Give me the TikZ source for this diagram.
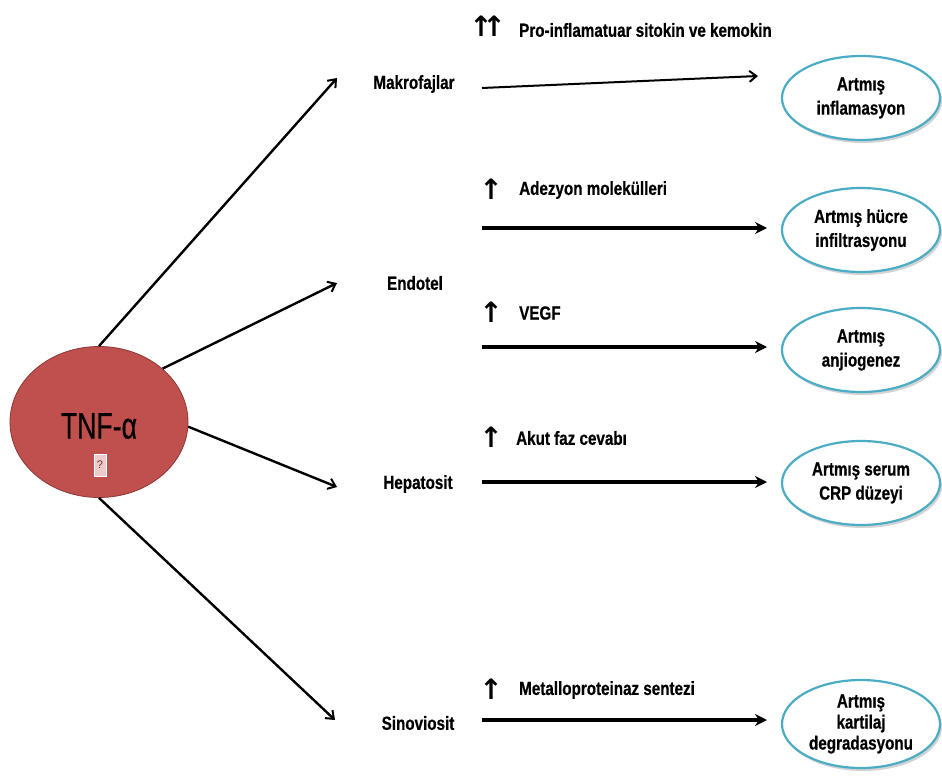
\documentclass[tikz,border=0pt]{standalone}
\usepackage{fontspec}
\setmainfont{Liberation Sans}
\newfontfamily\narrowb[FakeStretch=0.8,FakeBold=0.6]{Liberation Sans Bold}
\newfontfamily\narrowr[FakeStretch=0.72,FakeBold=0.5]{Liberation Sans}
\newfontfamily\arrowfont{DejaVu Sans Bold}
\usetikzlibrary{arrows.meta,shapes.geometric,shadows}
\definecolor{tnfred}{HTML}{C0504D}
\definecolor{tnfborder}{HTML}{8C3836}
\definecolor{effblue}{HTML}{4BACC6}
\tikzset{
  tnfnode/.style={ellipse, fill=tnfred, draw=tnfborder, line width=0.8pt,
    minimum width=178pt, minimum height=151pt, inner sep=0pt},
  effect/.style={ellipse, draw=effblue, line width=2.2pt, fill=white,
    minimum width=158pt, minimum height=84pt, inner sep=0pt,
    align=center, font=\narrowb\fontsize{19}{24}\selectfont,
    drop shadow={shadow xshift=2pt, shadow yshift=-3pt, opacity=0.35}},
  cell/.style={font=\narrowb\fontsize{19}{22}\selectfont, inner sep=0pt},
  mediator/.style={font=\narrowb\fontsize{19}{22}\selectfont, anchor=west, inner sep=0pt},
  uparrow/.style={font=\arrowfont\fontsize{28}{30}\selectfont, inner sep=0pt},
  diag/.style={line width=2.4pt, -{Straight Barb[length=7pt,width=11pt,line width=2pt]}},
  horiz/.style={line width=3.8pt, -{Stealth[length=12pt,width=12pt]}},
  horizthin/.style={line width=2pt, -{Straight Barb[length=7pt,width=11pt,line width=2pt]}}
}
\begin{document}
\begin{tikzpicture}[x=1pt,y=-1pt]
\useasboundingbox (0,0) rectangle (942,778);

% TNF-alpha
\node[tnfnode] (tnf) at (99,422) {};
\node[font=\narrowr\fontsize{37}{40}\selectfont, inner sep=0pt] (tnflabel) at (99,426) {TNF-α};
\node[draw=white, fill=tnfred!30!white, line width=0.8pt, inner sep=1pt,
  minimum width=12pt, minimum height=22pt,
  font=\fontsize{11}{12}\selectfont, text=tnfred!60!black] (qbox) at (100,465) {?};

% target cells
\node[cell] (mak) at (414,84) {Makrofajlar};
\node[cell] (end) at (415,283) {Endotel};
\node[cell] (hep) at (418,484) {Hepatosit};
\node[cell] (sin) at (418,723) {Sinoviosit};

\coordinate (dm) at (337,78);
\coordinate (de) at (337,283);
\coordinate (dh) at (337,487);
\coordinate (ds) at (335,720);

\draw[diag] (tnf.north) -- (dm);
\draw[diag] (tnf.40) -- (de);
\draw[diag] (tnf.-3) -- (dh);
\draw[diag] (tnf.south) -- (ds);

% effects
\node[effect] (e1) at (861,98) {Artmış\\inflamasyon};
\node[effect] (e2) at (861,230) {Artmış hücre\\infiltrasyonu};
\node[effect] (e3) at (861,350) {Artmış\\anjiogenez};
\node[effect] (e4) at (861,483) {Artmış serum\\CRP düzeyi};
\node[effect, minimum height=88pt, font=\narrowb\fontsize{19}{21}\selectfont] (e5) at (861,724) {Artmış\\kartilaj\\degradasyonu};

% horizontal arrows
\coordinate (h1s) at (482,88);  \coordinate (h1e) at (758,76);
\coordinate (h2s) at (482,228); \coordinate (h2e) at (767,228);
\coordinate (h3s) at (482,347); \coordinate (h3e) at (767,347);
\coordinate (h4s) at (482,482); \coordinate (h4e) at (767,482);
\coordinate (h5s) at (482,720); \coordinate (h5e) at (767,720);
\draw[horizthin] (h1s) -- (h1e);
\draw[horiz] (h2s) -- (h2e);
\draw[horiz] (h3s) -- (h3e);
\draw[horiz] (h4s) -- (h4e);
\draw[horiz] (h5s) -- (h5e);

% mediators with up arrows
\node[uparrow] (u1a) at (481,26) {↑};
\node[uparrow] (u1b) at (494,26) {↑};
\node[mediator] (m1) at (519,30) {Pro-inflamatuar sitokin ve kemokin};
\node[uparrow] (u2) at (491,189) {↑};
\node[mediator] (m2) at (519,190) {Adezyon molekülleri};
\node[uparrow] (u3) at (491,312) {↑};
\node[mediator] (m3) at (519,313) {VEGF};
\node[uparrow] (u4) at (491,437) {↑};
\node[mediator] (m4) at (516,438) {Akut faz cevabı};
\node[uparrow] (u5) at (491,689) {↑};
\node[mediator] (m5) at (519,690) {Metalloproteinaz sentezi};
\end{tikzpicture}
\end{document}
